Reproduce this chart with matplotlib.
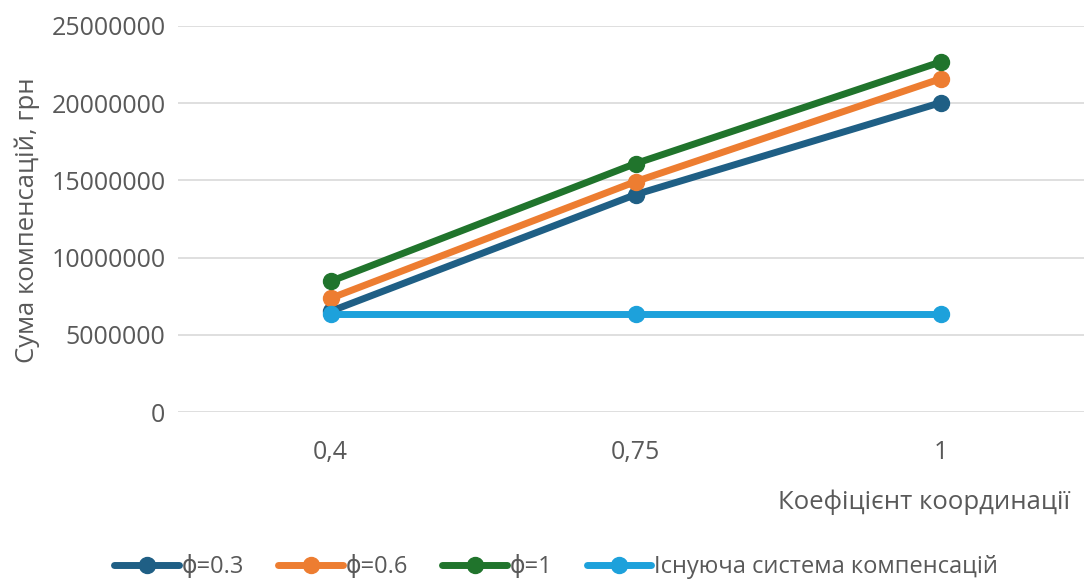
import matplotlib
matplotlib.use("Agg")
import matplotlib.pyplot as plt
from matplotlib.ticker import FuncFormatter

categories = ["0,4", "0,75", "1"]
phi_03 = [6520000, 14080000, 20030000]
phi_06 = [7360000, 14920000, 21580000]
phi_1 = [8460000, 16090000, 22670000]
existing = [6330000, 6330000, 6330000]
series_names = ["ϕ=0.3", "ϕ=0.6", "ϕ=1", "Існуюча система компенсацій"]
y_ticks = [0, 5000000, 10000000, 15000000, 20000000, 25000000]

colors = ["#1f5f85", "#ed7d31", "#20742c", "#1da1db"]
text_color = "#595959"

plt.rcParams['font.family'] = ['Open Sans', 'DejaVu Sans']

W, H = 1084, 579
fig = plt.figure(figsize=(W / 100, H / 100), dpi=100)
left = 178 / W
bottom = (H - 412) / H
top = (H - 26) / H
ax = fig.add_axes([left, bottom, 1 - left, top - bottom])

x = list(range(len(categories)))
for vals, c, name in zip([phi_03, phi_06, phi_1, existing], colors, series_names):
    ax.plot(x, vals, color=c, lw=5, marker='o', ms=11.5, label=name,
            solid_capstyle='round', zorder=3)

ax.set_xlim(-0.5, -0.5 + (W - 178) / 305)
ax.set_ylim(0, 25000000)
ax.set_yticks(y_ticks)
ax.yaxis.set_major_formatter(FuncFormatter(lambda v, p: f"{int(v)}"))
ax.set_xticks(x)
ax.set_xticklabels(categories)
ax.grid(axis='y', color='#d9d9d9', lw=1.2, zorder=0)
for s in ax.spines.values():
    s.set_visible(False)
ax.tick_params(axis='both', length=0, colors=text_color, labelsize=18)
ax.tick_params(axis='y', pad=9)
ax.tick_params(axis='x', pad=20)

fig.text(1070 / W, (H - 502) / H, "Коефіцієнт координації", ha='right', va='center',
         color=text_color, fontsize=18.5)
fig.text(27 / W, (H - 220) / H, "Сума компенсацій, грн", ha='center', va='center',
         rotation=90, color=text_color, fontsize=18.5)

fig.legend(loc='center', bbox_to_anchor=(0.513, (H - 567) / H), ncol=4, frameon=False,
           fontsize=17, labelcolor=text_color, handlelength=2.75, handletextpad=0.1,
           columnspacing=1.45, borderpad=0)

fig.savefig("out.png", dpi=100)
